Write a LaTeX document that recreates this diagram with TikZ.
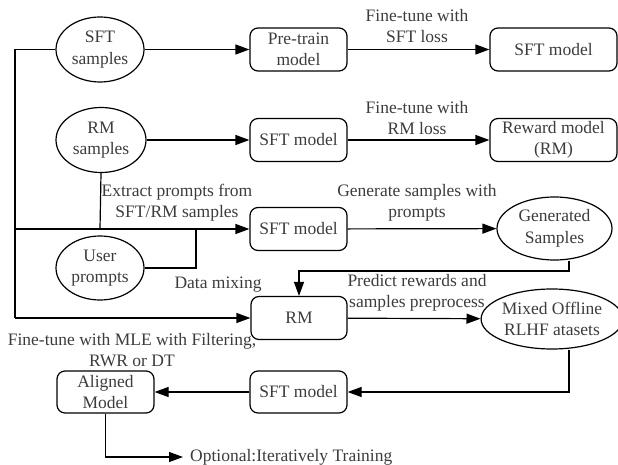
\documentclass[tikz,border=0pt]{standalone}
\usepackage{fontspec}
\setmainfont{Liberation Serif}
\usetikzlibrary{shapes.geometric,arrows.meta,calc}
\definecolor{txt}{RGB}{60,60,60}
\tikzset{
  base/.style={draw=black, line width=1.2pt, text=txt, align=center, inner sep=0pt,
    font=\fontsize{17.5}{21.5}\selectfont},
  blob/.style={base, ellipse},
  box/.style={base, rectangle, rounded corners=8pt, minimum width=97pt, minimum height=43pt},
  wbox/.style={box, minimum width=127pt},
  lbl/.style={align=center, text=txt, inner sep=0pt, font=\fontsize{17.5}{21.5}\selectfont},
  wire/.style={line width=1.2pt},
  flow/.style={wire, -{Triangle[length=14pt,width=10pt]}},
}
\begin{document}
\begin{tikzpicture}[x=1pt, y=-1pt]
\useasboundingbox (0,0) rectangle (618,465);

% row 1: supervised fine-tuning
\node[blob, minimum width=88pt, minimum height=65pt] (sfts) at (100,49.5) {SFT\\samples};
\node[box] (pre) at (298.5,49.5) {Pre-train\\model};
\node[wbox] (sft1) at (553.5,49.5) {SFT model};

% row 2: reward model training
\node[blob, minimum width=90pt, minimum height=65pt] (rms) at (101,140) {RM\\samples};
\node[box] (sft2) at (298.5,140) {SFT model};
\node[wbox] (rwd) at (553.5,140) {Reward model\\(RM)};

% row 3: sample generation
\node[box] (sft3) at (298.5,229) {SFT model};
\node[blob, minimum width=88pt, minimum height=64pt] (usr) at (100,268) {User\\prompts};
\node[blob, minimum width=115pt, minimum height=63pt] (gen) at (554.5,228.5) {Generated\\Samples};

% row 4: scoring
\node[box, minimum width=96pt] (rm) at (299,318) {RM};
\node[blob, minimum width=110pt, minimum height=60pt] (mix) at (552,319) {Mixed Offline\\RLHF atasets};

% row 5: alignment
\node[box, minimum height=42pt] (sft5) at (298.5,392) {SFT model};
\node[box, minimum height=42pt] (ali) at (105.5,392) {Aligned\\Model};
\node[lbl, anchor=west] (opt) at (190,457) {Optional:Iteratively Training};

% edge labels
\node[lbl] (l1) at (417,26) {Fine-tune with\\SFT loss};
\node[lbl] (l2) at (417,118) {Fine-tune with\\RM loss};
\node[lbl] (l3) at (177,202.5) {Extract prompts from\\SFT/RM samples};
\node[lbl] (l4) at (417,203) {Generate samples with\\prompts};
\node[lbl] (l5) at (218,285) {Data mixing};
\node[lbl] (l6) at (417,293) {Predict rewards and\\samples preprocess};
\node[lbl] (l7) at (132,350) {Fine-tune with MLE with Filtering,\\RWR or DT};

% routing points
\coordinate (busTop) at (15,49.5);
\coordinate (busMid) at (15,229);
\coordinate (busBot) at (15,318);
\coordinate (rmDrop) at (100,229);
\coordinate (usrBend) at (196,268);
\coordinate (usrJoin) at (196,229);
\coordinate (genTurn) at (569,271);
\coordinate (rmTurn) at (299,271);
\coordinate (mixTurn) at (569,392);
\coordinate (aliTurn) at (105.5,457);
\coordinate (optTip) at (183,457);

% connectors
\draw[flow] (sfts) -- (pre);
\draw[flow] (pre) -- (sft1);
\draw[flow] (rms) -- (sft2);
\draw[flow] (sft2) -- (rwd);
\draw[wire] (sfts.west) -- (busTop) -- (busBot);
\draw[flow] (busBot) -- (rm.west);
\draw[flow] (busMid) -- (sft3.west);
\draw[wire] (rms.south) -- (rmDrop);
\draw[wire] (usr.east) -- (usrBend) -- (usrJoin);
\draw[flow] (sft3) -- (gen);
\draw[flow] (gen.south -| genTurn) -- (genTurn) -- (rmTurn) -- (rm.north);
\draw[flow] (rm) -- (mix);
\draw[flow] (mix.south -| mixTurn) -- (mixTurn) -- (sft5.east);
\draw[flow] (sft5) -- (ali);
\draw[flow] (ali.south) -- (aliTurn) -- (optTip);
\end{tikzpicture}
\end{document}
